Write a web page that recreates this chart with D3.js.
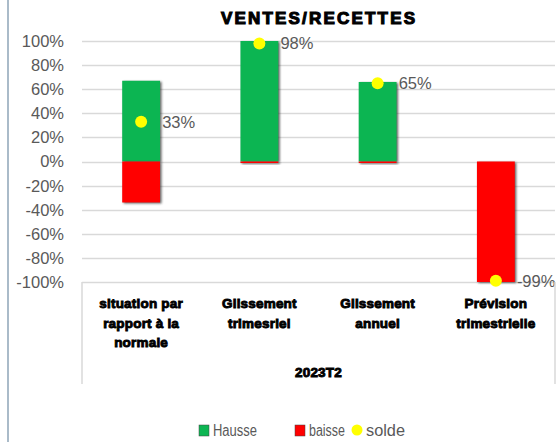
<!DOCTYPE html>
<html>
<head>
<meta charset="utf-8">
<script src="https://cdn.jsdelivr.net/npm/d3@7"></script>
<style>
  body { margin: 0; background: #fff; }
  svg { display: block; }
</style>
</head>
<body>
<svg id="chart" width="559" height="442"></svg>
<script>
// data
var categories = [
    ["situation par", "rapport à la", "normale"],
    ["Glissement", "trimesriel"],
    ["Glissement", "annuel"],
    ["Prévision", "trimestrielle"]
];
var hausse = [67, 100, 66, 0];
var baisse = [-34, -1, -1, -100];
var solde = [33, 98, 65, -99];
var yTicks = [-100, -80, -60, -40, -20, 0, 20, 40, 60, 80, 100];
var groupLabel = "2023T2";
var title = "VENTES/RECETTES";

var svg = d3.select("#chart");
var plotLeft = 82, plotRight = 555, plotTop = 41, plotBottom = 282;

var x = d3.scaleBand().domain(d3.range(categories.length)).range([plotLeft, plotRight]);
var y = d3.scaleLinear().domain([-100, 100]).range([plotBottom, plotTop]);
var barW = x.bandwidth() * 0.32;

//shadow filter for the bars
var defs = svg.append("defs");
defs.append("filter").attr("id", "blur")
    .attr("x", "-20%").attr("y", "-20%").attr("width", "140%").attr("height", "140%")
  .append("feGaussianBlur").attr("stdDeviation", 1);

// left frame line
svg.append("line")
    .attr("x1", 8).attr("x2", 8).attr("y1", 0).attr("y2", 442)
    .attr("stroke", "#aabbc9").attr("stroke-width", 2);

// gridlines
svg.append("g").selectAll("line")
    .data(yTicks)
    .enter().append("line")
    .attr("x1", plotLeft).attr("x2", plotRight)
    .attr("y1", d => Math.round(y(d)) + 0.5).attr("y2", d => Math.round(y(d)) + 0.5)
    .attr("stroke", "#d9d9d9").attr("stroke-width", 1.5);

// y axis labels
svg.append("g").selectAll("text")
    .data(yTicks)
    .enter().append("text")
    .attr("x", 64).attr("y", d => y(d))
    .attr("dy", "0.36em")
    .attr("text-anchor", "end")
    .attr("fill", "#595959")
    .style("font-family", "'Liberation Sans', Arial, sans-serif")
    .style("font-size", "16.5px")
    .text(d => d + "%");

// bars
function drawBars(values, color, cls) {
    var g = svg.append("g").attr("class", cls);
    g.selectAll(".shadow")
        .data(values)
        .enter().filter(d => d !== 0).append("rect")
        .attr("class", "shadow")
        .attr("x", (d, i) => x(i) + (x.bandwidth() - barW) / 2 + 1.5)
        .attr("y", d => Math.min(y(d), y(0)) + 1)
        .attr("width", barW)
        .attr("height", d => Math.max(Math.abs(y(d) - y(0)), 1.5))
        .attr("fill", "#333").attr("opacity", 0.75)
        .attr("filter", "url(#blur)");
    g.selectAll(".bar")
        .data(values)
        .enter().filter(d => d !== 0).append("rect")
        .attr("class", "bar")
        .attr("x", (d, i) => x(i) + (x.bandwidth() - barW) / 2)
        .attr("y", d => Math.min(y(d), y(0)))
        .attr("width", barW)
        .attr("height", d => Math.max(Math.abs(y(d) - y(0)), 1.5))
        .attr("fill", color);
}
drawBars(hausse, "#0cb552", "hausse");
drawBars(baisse, "#ff0000", "baisse");

// solde points + labels
var pts = svg.append("g");
pts.selectAll("circle")
    .data(solde)
    .enter().append("circle")
    .attr("cx", (d, i) => x(i) + x.bandwidth() / 2)
    .attr("cy", d => y(d))
    .attr("r", 6)
    .attr("fill", "#ffff00");
pts.selectAll("text")
    .data(solde)
    .enter().append("text")
    .attr("x", (d, i) => x(i) + x.bandwidth() / 2 + 21)
    .attr("y", d => y(d))
    .attr("dy", "0.36em")
    .attr("fill", "#595959")
    .style("font-family", "'Liberation Sans', Arial, sans-serif")
    .style("font-size", "16.5px")
    .text(d => d + "%");

// title
svg.append("text")
    .attr("x", 318).attr("y", 24)
    .attr("text-anchor", "middle")
    .attr("fill", "#000").attr("stroke", "#000").attr("stroke-width", 1.1)
    .style("font-family", "'Liberation Sans', Arial, sans-serif")
    .style("font-weight", "bold")
    .style("font-size", "17px")
    .attr("textLength", 194)
    .text(title);

// category axis box
svg.append("g").selectAll("line")
    .data([plotLeft, plotRight])
    .enter().append("line")
    .attr("x1", d => d).attr("x2", d => d)
    .attr("y1", plotBottom).attr("y2", 384)
    .attr("stroke", "#d9d9d9").attr("stroke-width", 1.5);

function heavy(sel) {
    sel.attr("text-anchor", "middle")
        .attr("fill", "#000").attr("stroke", "#000").attr("stroke-width", 0.9)
        .style("font-family", "'Liberation Sans', Arial, sans-serif")
        .style("font-weight", "bold")
        .style("font-size", "13.5px")
        .style("letter-spacing", "0.2px");
}

var cat = svg.append("g");
categories.forEach(function(lines, i) {
    var t = cat.append("text").call(heavy);
    lines.forEach(function(l, j) {
        t.append("tspan")
            .attr("x", x(i) + x.bandwidth() / 2)
            .attr("y", 308 + j * 19.5)
            .text(l);
    });
});
cat.append("text")
    .attr("x", (plotLeft + plotRight) / 2).attr("y", 377)
    .call(heavy)
    .text(groupLabel);

// legend
var legend = svg.append("g").attr("transform", "translate(0,430)");
var legendItems = [
    { name: "Hausse", color: "#0cb552", type: "rect", x: 199, w: 44 },
    { name: "baisse", color: "#ff0000", type: "rect", x: 295, w: 36 },
    { name: "solde", color: "#ffff00", type: "circle", x: 352, w: 39 }
];
legendItems.forEach(function(d) {
    if (d.type === "rect") {
        legend.append("rect").attr("x", d.x).attr("y", -5).attr("width", 10).attr("height", 11)
            .attr("fill", d.color).attr("stroke", "#444").attr("stroke-width", 0.5);
    } else {
        legend.append("circle").attr("cx", d.x + 5).attr("cy", 0).attr("r", 5.5).attr("fill", d.color);
    }
    legend.append("text")
        .attr("x", d.x + 14).attr("y", 0).attr("dy", "0.36em")
        .attr("fill", "#595959")
        .style("font-family", "'Liberation Sans', Arial, sans-serif")
        .style("font-size", "16px")
        .attr("textLength", d.w)
        .attr("lengthAdjust", "spacingAndGlyphs")
        .text(d.name);
});
</script>
</body>
</html>
